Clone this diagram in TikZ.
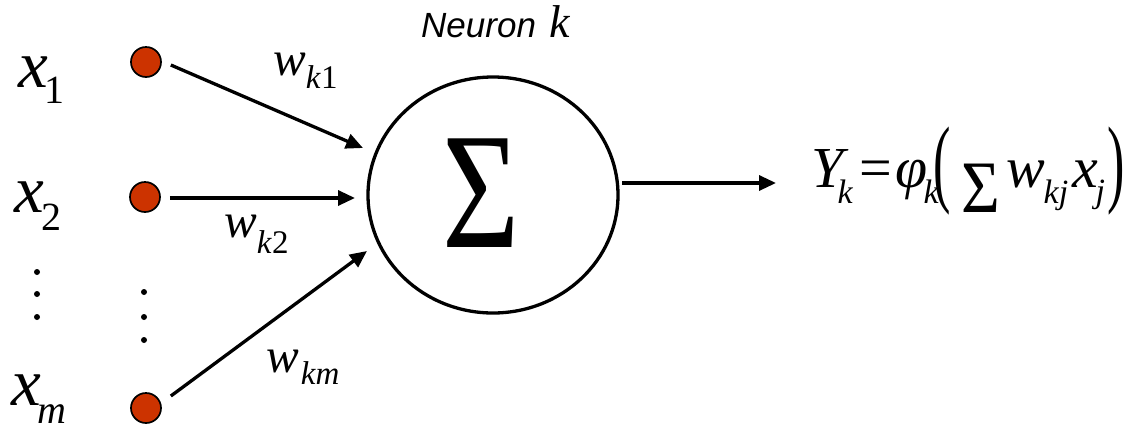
\documentclass[tikz,border=0pt]{standalone}
\usepackage{fontspec}
\setmainfont{Liberation Serif}
\newfontfamily\arialfont{Liberation Sans}
\usetikzlibrary{arrows.meta,shapes.geometric}
\definecolor{dotred}{HTML}{CC3300}
\newcommand\fs[1]{\fontsize{#1}{#1}\selectfont}
\newcommand\at[2]{\rlap{\hspace{#1pt}#2}}
\begin{document}
\begin{tikzpicture}[x=1pt,y=-1pt,
  inp/.style={circle,draw=black,line width=1.7pt,fill=dotred,minimum size=30pt,inner sep=0},
  conn/.style={line width=3.3pt,-{Triangle[length=17pt,width=15pt]}},
  txt/.style={inner sep=0,anchor=base west},
  vdot/.style={circle,fill=black,inner sep=0,minimum size=6pt}]
\useasboundingbox (0,0) rectangle (1133,424);
% input labels
\node[txt] (lx1) at (18,87) {\fs{67}\textit{x}\kern-3pt\raisebox{-16pt}{\fs{40}1}};
\node[txt] (lx2) at (14,212) {\fs{67}\textit{x}\kern-2pt\raisebox{-18pt}{\fs{40}2}};
\node[txt] (lxm) at (11,405) {\fs{67}\textit{x}\kern-3pt\raisebox{-18pt}{\fs{40}\textit{m}}};
\node[vdot] (ld1) at (37,272) {};
\node[vdot] (ld2) at (37,294) {};
\node[vdot] (ld3) at (37,317) {};
% input dots
\node[inp] (i1) at (146,62) {};
\node[inp] (i2) at (145,197) {};
\node[inp] (im) at (146,408) {};
\node[vdot] (rd1) at (144,292) {};
\node[vdot] (rd2) at (144,317) {};
\node[vdot] (rd3) at (144,340) {};
% neuron
\node[draw,ellipse,line width=3.3pt,minimum width=250pt,minimum height=236pt,inner sep=0] (n) at (493,195) {};
\node[inner sep=0] (sig) at (481,193) {\fs{166}\scalebox{0.8}[1]{Σ}};
\node[txt] (title) at (421,37) {\arialfont\itshape\fs{35}Neuron\hspace{14pt}\rmfamily\fs{46}k};
% arrow ends
\coordinate (t1) at (363,148);
\coordinate (t2) at (355,198);
\coordinate (tm) at (367,251);
\coordinate (o1) at (622,183);
\coordinate (o2) at (776,183);
\draw[conn] (i1.east) ++(9,3) coordinate (s1) (s1) -- (t1);
\draw[conn] (i2.east) ++(9,1) coordinate (s2) (s2) -- (t2);
\draw[conn] (im.east) ++(9,-12) coordinate (sm) (sm) -- (tm);
\draw[conn] (o1) -- (o2);
% weights
\node[txt] (w1) at (273,75) {\fs{49}\textit{w}\raisebox{-13pt}{\fs{33}\textit{k}1}};
\node[txt] (w2) at (224,237) {\fs{49}\textit{w}\raisebox{-16pt}{\fs{33}\textit{k}2}};
\node[txt] (wm) at (266,372) {\fs{49}\textit{w}\kern2pt\raisebox{-12pt}{\fs{33}\textit{km}}};
% output formula
\node[txt] (out) at (811,187) {\fs{58}%
\at{0}{\textit{Y}}%
\at{26}{\raisebox{-16pt}{\fs{34}\textit{k}}}%
\at{48}{=}%
\at{84}{\textit{φ}}%
\at{112}{\raisebox{-16pt}{\fs{34}\textit{k}}}%
\at{195}{\textit{w}}%
\at{232}{\raisebox{-16pt}{\fs{34}\textit{kj}}}%
\at{261}{\textit{x}}%
\at{284}{\raisebox{-15pt}{\fs{34}\textit{j}}}%
\hspace{290pt}};
\node[txt] (lp) at (933,194) {\fs{58}\scalebox{0.9}[1.68]{(}};
\node[inner sep=0] (sum) at (981,188) {\fs{74}\scalebox{0.9}[1]{Σ}};
\node[txt] (rp) at (1107,194) {\fs{58}\scalebox{0.9}[1.68]{)}};
\end{tikzpicture}
\end{document}
